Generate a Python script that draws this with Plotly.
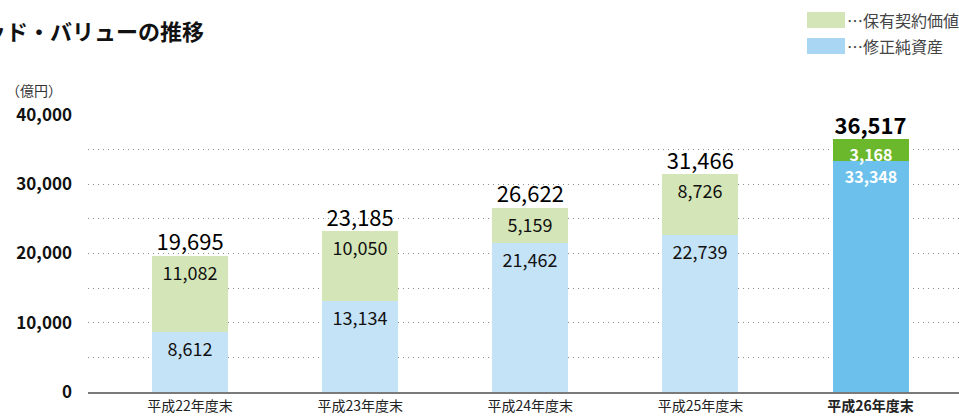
import plotly.graph_objects as go

categories = ["平成22年度末", "平成23年度末", "平成24年度末", "平成25年度末", "平成26年度末"]
net_assets = [8612, 13134, 21462, 22739, 33348]        # 修正純資産
contract_value = [11082, 10050, 5159, 8726, 3168]      # 保有契約価値
totals = [19695, 23185, 26622, 31466, 36517]
y_tick_values = [0, 5000, 10000, 15000, 20000, 25000, 30000, 35000, 40000]
y_tick_labels = ["0", "", "10,000", "", "20,000", "", "30,000", "", "40,000"]

FONT = "Noto Sans CJK JP"
W, H = 959, 417
L, R, T, B = 88, 0, 115, 25
pw, ph = W - L - R, H - T - B


def px(x):
    return (x - L) / pw


def py(y):
    return (H - B - y) / ph


n = len(categories)
last = n - 1
blue = ["#c5e3f7"] * last + ["#6cc1ec"]
green = ["#d4e6b7"] * last + ["#6cb82c"]

fmt = lambda v: f"{v:,}"
bold_last = lambda vals: [f"<b>{fmt(v)}</b>" if i == last else fmt(v) for i, v in enumerate(vals)]
in_color = ["#111111"] * last + ["#ffffff"]
in_size = [18] * last + [16]

fig = go.Figure()
fig.add_trace(go.Bar(
    x=categories, y=net_assets, marker=dict(color=blue, line=dict(width=0)),
    text=bold_last(net_assets), textposition="inside", insidetextanchor="end",
    textfont=dict(family=FONT, size=in_size, color=in_color), textangle=0, constraintext="none",
    width=0.447, name="修正純資産", hoverinfo="skip",
))
fig.add_trace(go.Bar(
    x=categories, y=contract_value, marker=dict(color=green, line=dict(width=0)),
    text=bold_last(contract_value), textposition="inside", insidetextanchor="end",
    textfont=dict(family=FONT, size=in_size, color=in_color), textangle=0, constraintext="none",
    width=0.447, name="保有契約価値", hoverinfo="skip",
))
fig.add_trace(go.Scatter(
    x=categories, y=totals, mode="text", text=bold_last(totals),
    textposition="top center", textfont=dict(family=FONT, size=22, color="#000000"),
    cliponaxis=False, showlegend=False, hoverinfo="skip",
))

xt = [f"<b>{c}</b>" if i == last else c for i, c in enumerate(categories)]

fig.update_layout(
    width=W, height=H, barmode="stack", showlegend=False,
    margin=dict(l=L, r=R, t=T, b=B),
    plot_bgcolor="white", paper_bgcolor="white",
    font=dict(family=FONT, color="#222222"),
    xaxis=dict(
        range=[-0.6, 4.52], tickmode="array", tickvals=categories, ticktext=xt,
        showgrid=False, showline=True, linecolor="#7a7a7a", linewidth=2,
        ticks="", tickfont=dict(family=FONT, size=14, color="#222222"),
        automargin=False,
    ),
    yaxis=dict(
        range=[0, 40000], tickmode="array", tickvals=y_tick_values,
        ticktext=[f"<b>{t}</b>" if t else "" for t in y_tick_labels],
        showgrid=True, gridcolor="#8a8a8a", gridwidth=1, griddash="1px,4px",
        zeroline=False, showline=False, ticks="",
        tickfont=dict(family=FONT, size=17, color="#111111"),
        ticklabelstandoff=15, automargin=False,
    ),
    bargap=0,
)

anns = [
    dict(text="<b>ッド・バリューの推移</b>", x=px(206), y=py(30), xanchor="right", yanchor="middle",
         font=dict(family=FONT, size=22, color="#111111")),
    dict(text="（億円）", x=px(4), y=py(90), xanchor="left", yanchor="middle",
         font=dict(family=FONT, size=14, color="#333333")),
    dict(text="…保有契約価値", x=px(845), y=py(20), xanchor="left", yanchor="middle",
         font=dict(family=FONT, size=16, color="#444444")),
    dict(text="…修正純資産", x=px(845), y=py(46), xanchor="left", yanchor="middle",
         font=dict(family=FONT, size=16, color="#444444")),
]
for a in anns:
    a.update(xref="paper", yref="paper", showarrow=False)
fig.update_layout(annotations=anns)

fig.add_shape(type="rect", xref="paper", yref="paper", x0=px(807), x1=px(845), y0=py(28), y1=py(12),
              fillcolor="#d4e6b7", line=dict(width=0))
fig.add_shape(type="rect", xref="paper", yref="paper", x0=px(807), x1=px(845), y0=py(54), y1=py(38),
              fillcolor="#a8d6f3", line=dict(width=0))

fig.write_html("out.html", config={"displayModeBar": False},
               post_script="document.body.style.margin='0';")
